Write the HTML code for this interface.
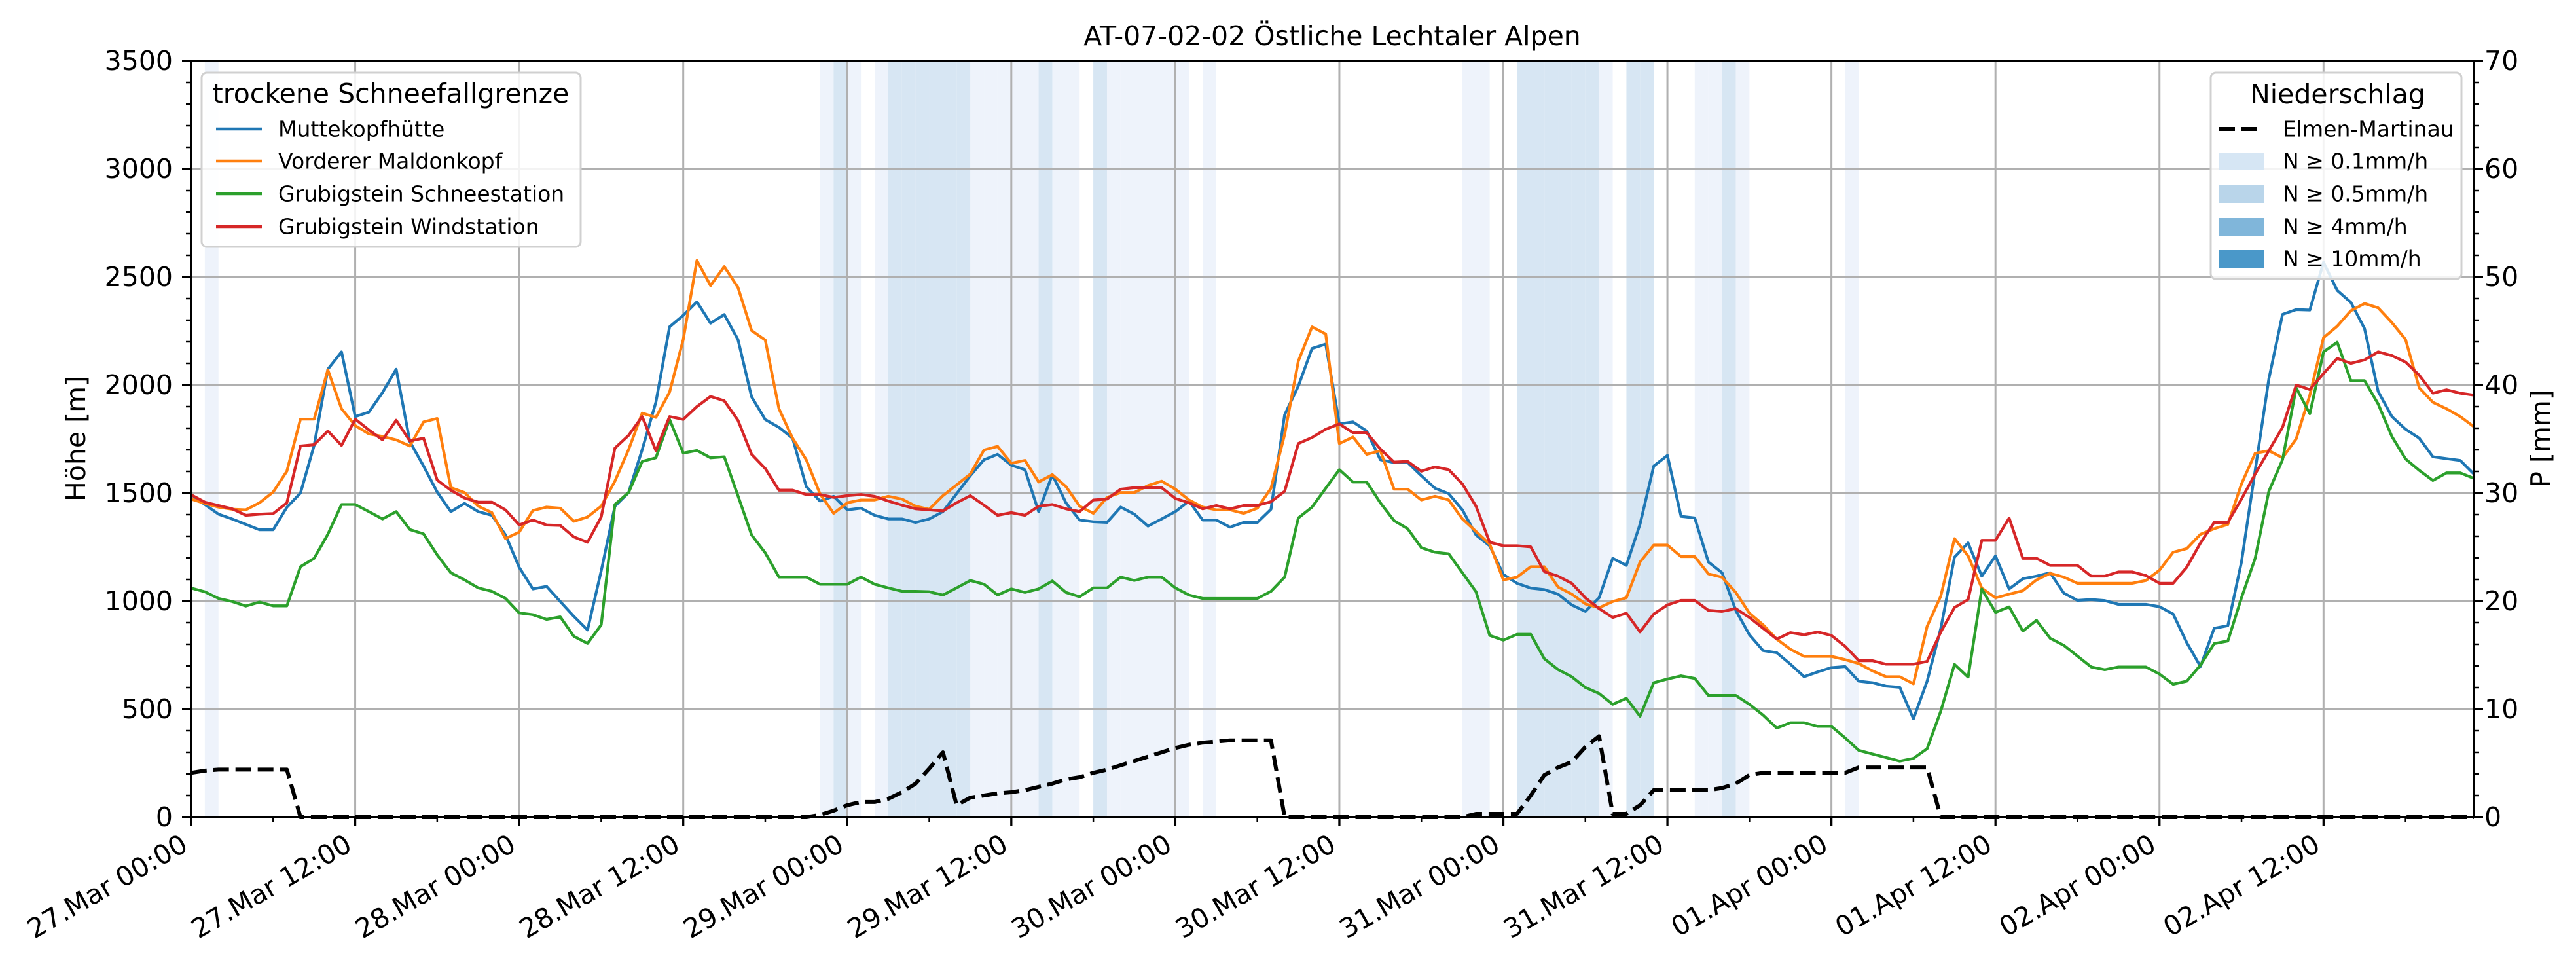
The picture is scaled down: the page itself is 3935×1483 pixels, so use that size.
<!DOCTYPE html>
<html><head><meta charset="utf-8"><style>
html,body{margin:0;padding:0;background:#fff;}
svg{display:block;font-family:"DejaVu Sans","Liberation Sans",sans-serif;}
</style></head><body>
<svg id="chart" width="3935" height="1483" viewBox="0 0 3935 1483" xmlns="http://www.w3.org/2000/svg">
<rect x="0" y="0" width="3935" height="1483" fill="#fff"/>
<g id="bands"></g>
<g id="grid"></g>
<g id="series"></g>
<g id="axes"></g>
<text x="2035" y="55" text-anchor="middle" dominant-baseline="central" font-size="41">AT-07-02-02 Östliche Lechtaler Alpen</text>
<text transform="translate(116,670) rotate(-90)" text-anchor="middle" dominant-baseline="central" font-size="41">Höhe [m]</text>
<text transform="translate(3881,670) rotate(-90)" text-anchor="middle" dominant-baseline="central" font-size="41">P [mm]</text>
<g>
<rect x="308" y="111" width="579" height="266" rx="8" fill="#fff" fill-opacity="0.85" stroke="#d0d0d0" stroke-width="3"/>
<text x="597" y="143" text-anchor="middle" dominant-baseline="central" font-size="41">trockene Schneefallgrenze</text>
<line x1="330" y1="197" x2="400" y2="197" stroke="#1f77b4" stroke-width="4.5"/>
<text x="425" y="197" dominant-baseline="central" font-size="33">Muttekopfhütte</text>
<line x1="330" y1="246" x2="400" y2="246" stroke="#ff7f0e" stroke-width="4.5"/>
<text x="425" y="246" dominant-baseline="central" font-size="33">Vorderer Maldonkopf</text>
<line x1="330" y1="296" x2="400" y2="296" stroke="#2ca02c" stroke-width="4.5"/>
<text x="425" y="296" dominant-baseline="central" font-size="33">Grubigstein Schneestation</text>
<line x1="330" y1="346" x2="400" y2="346" stroke="#d62728" stroke-width="4.5"/>
<text x="425" y="346" dominant-baseline="central" font-size="33">Grubigstein Windstation</text>
</g>
<g>
<rect x="3377" y="111" width="383" height="315" rx="8" fill="#fff" fill-opacity="0.85" stroke="#d0d0d0" stroke-width="3"/>
<text x="3571" y="144" text-anchor="middle" dominant-baseline="central" font-size="41">Niederschlag</text>
<line x1="3390" y1="197" x2="3458" y2="197" stroke="#000" stroke-width="6" stroke-dasharray="24,10"/>
<text x="3487" y="197" dominant-baseline="central" font-size="33">Elmen-Martinau</text>
<rect x="3390" y="233" width="68" height="27" fill="#d6e6f4"/>
<text x="3487" y="246" dominant-baseline="central" font-size="33">N ≥ 0.1mm/h</text>
<rect x="3390" y="283" width="68" height="27" fill="#b9d5ea"/>
<text x="3487" y="296" dominant-baseline="central" font-size="33">N ≥ 0.5mm/h</text>
<rect x="3390" y="333" width="68" height="27" fill="#80b6da"/>
<text x="3487" y="346" dominant-baseline="central" font-size="33">N ≥ 4mm/h</text>
<rect x="3390" y="382" width="68" height="27" fill="#4a98c9"/>
<text x="3487" y="395" dominant-baseline="central" font-size="33">N ≥ 10mm/h</text>
</g>
</svg>
<script>
const muttekopf = [1493,1447,1402,1380,1355,1330,1330,1434,1500,1721,2073,2153,1854,1874,1965,2073,1738,1625,1505,1414,1452,1414,1397,1306,1156,1056,1068,998,929,866,1140,1439,1502,1701,1920,2269,2322,2385,2286,2326,2211,1945,1840,
1804,1754,1530,1463,1485,1422,1430,1397,1380,1380,1364,1380,1414,1497,1580,1654,1679,1629,1608,1414,1585,1455,1375,1367,1364,1435,1402,1347,1380,1414,1463,1375,1375,1342,1364,1364,1425,1862,1995,2169,2189,1820,
1829,1787,1654,1641,1641,1580,1522,1497,1422,1306,1256,1123,1082,1060,1053,1032,982,952,1015,1198,1165,1356,1625,1674,1392,1385,1181,1131,957,844,771,761,708,650,672,692,697,629,622,606,601,
455,629,874,1203,1269,1115,1209,1056,1103,1115,1131,1037,1003,1007,1002,985,985,985,974,940,807,697,874,886,1181,1605,2028,2327,2349,2347,2568,2438,2382,2261,1970,1854,1795,1754,1668,1659,1651,1588];
const maldonkopf = [1472,1452,1435,1425,1422,1455,1505,1601,1842,1842,2070,1890,1812,1774,1762,1746,1718,1829,1845,1525,1502,1439,1409,1289,1319,1419,1435,1430,1369,1389,1439,1555,1701,1870,1850,1967,2211,2576,2460,2548,2452,2252,2208,
1890,1754,1654,1497,1406,1455,1468,1468,1485,1472,1439,1425,1488,1538,1588,1699,1716,1638,1651,1551,1585,1530,1439,1406,1480,1502,1502,1535,1555,1518,1468,1435,1422,1422,1406,1430,1522,1771,2111,2269,2236,1729,
1759,1679,1696,1518,1518,1468,1485,1468,1380,1322,1264,1098,1111,1159,1159,1065,1032,987,969,998,1015,1181,1259,1259,1206,1206,1126,1110,1040,944,890,824,777,744,744,744,729,711,677,650,650,
617,883,1023,1289,1209,1060,1015,1032,1048,1098,1128,1111,1082,1082,1082,1082,1082,1095,1143,1226,1243,1309,1335,1355,1542,1684,1696,1663,1751,1953,2219,2272,2344,2377,2357,2289,2211,1987,1920,1890,1854,1807];
const schneestation = [1060,1043,1012,998,977,995,978,978,1159,1198,1309,1447,1447,1414,1380,1414,1331,1311,1214,1131,1098,1061,1045,1012,945,937,915,927,837,804,890,1447,1502,1646,1663,1841,1685,1697,1663,1668,1488,1306,1223,
1111,1111,1111,1078,1078,1078,1111,1078,1061,1045,1045,1043,1028,1061,1095,1078,1028,1056,1040,1056,1093,1040,1020,1061,1061,1111,1095,1111,1111,1061,1028,1012,1012,1012,1012,1012,1045,1111,1385,1435,1522,1608,
1551,1551,1455,1372,1335,1247,1226,1219,1131,1043,841,819,846,846,733,683,650,600,572,522,550,467,622,639,654,642,563,563,563,522,472,412,437,437,420,420,367,309,292,276,259,
272,317,491,707,648,1056,948,973,861,911,828,795,745,695,682,695,695,695,662,615,629,704,803,815,1015,1198,1508,1654,1987,1867,2153,2198,2020,2020,1912,1762,1658,1605,1558,1593,1593,1568];
const windstation = [1492,1458,1442,1427,1397,1402,1405,1455,1718,1724,1787,1721,1842,1792,1746,1837,1741,1754,1560,1513,1477,1458,1458,1422,1352,1375,1352,1350,1297,1272,1389,1708,1767,1854,1696,1854,1841,1900,1947,1927,1837,1679,1613,
1513,1513,1493,1493,1480,1488,1493,1485,1463,1444,1427,1422,1417,1455,1488,1444,1397,1409,1397,1439,1447,1427,1414,1468,1472,1518,1525,1525,1525,1475,1455,1427,1442,1427,1442,1442,1460,1508,1729,1757,1795,1820,
1779,1779,1704,1643,1646,1601,1621,1608,1542,1439,1272,1256,1256,1251,1136,1115,1082,1015,965,924,944,857,940,982,1003,1003,957,952,965,924,874,824,854,844,857,841,791,724,724,708,708,
708,721,857,970,1007,1281,1281,1384,1198,1198,1165,1165,1165,1115,1115,1135,1135,1118,1082,1082,1157,1269,1364,1364,1472,1588,1696,1804,2000,1979,2053,2123,2100,2116,2153,2136,2106,2045,1962,1978,1962,1953];
const precipSum = [4.1,4.3,4.4,4.4,4.4,4.4,4.4,4.4,0,0,0,0,0,0,0,0,0,0,0,0,0,0,0,0,0,0,0,0,0,0,0,0,0,0,0,0,0,0,0,0,0,0,0,0,0,0,
0.2,0.6,1.1,1.4,1.4,1.7,2.3,3.1,4.5,6.0,1.1,1.8,2.0,2.2,2.3,2.5,2.8,3.1,3.5,3.7,4.1,4.4,4.8,5.2,5.6,6.0,6.4,6.7,6.9,7.0,7.1,7.1,7.1,7.1,
0,0,0,0,0,0,0,0,0,0,0,0,0,0,0.3,0.3,0.3,0.3,2.0,3.9,4.6,5.1,6.5,7.5,0.3,0.3,1.1,2.5,2.5,2.5,2.5,2.5,2.7,3.1,3.9,4.1,4.1,4.1,4.1,4.1,4.1,4.1,4.6,4.6,4.6,4.6,4.6,4.6,
0,0,0,0,0,0,0,0,0,0,0,0,0,0,0,0,0,0,0,0,0,0,0,0,0,0,0,0,0,0,0,0,0,0,0,0,0,0,0,0];
const lightRainHours = [1,46,48,50,57,58,59,60,61,63,64,67,68,69,70,71,72,74,93,94,103,110,111,113,121];
const moderateRainHours = [47,51,52,53,54,55,56,62,66,97,98,99,100,101,102,105,106,112];
const xTickLabels = ["27.Mar 00:00","27.Mar 12:00","28.Mar 00:00","28.Mar 12:00","29.Mar 00:00","29.Mar 12:00","30.Mar 00:00","30.Mar 12:00","31.Mar 00:00","31.Mar 12:00","01.Apr 00:00","01.Apr 12:00","02.Apr 00:00","02.Apr 12:00"];
const yTicks = [0,500,1000,1500,2000,2500,3000,3500];
const y2Ticks = [0,10,20,30,40,50,60,70];

const NS='http://www.w3.org/2000/svg';
const L=292,R=3779,T=93,B=1248,HOURS=167;
const x=h=>L+h*(R-L)/HOURS;
const y=m=>B-m*(B-T)/3500;
const y2=p=>B-p*(B-T)/70;
function mk(tag,attrs,parent){const e=document.createElementNS(NS,tag);for(const k in attrs)e.setAttribute(k,attrs[k]);parent.appendChild(e);return e;}
const gB=document.getElementById('bands'),gG=document.getElementById('grid'),gS=document.getElementById('series'),gA=document.getElementById('axes');
lightRainHours.forEach(h=>{const r=mk('rect',{x:x(h),y:T,width:x(h+1)-x(h),height:B-T,fill:'#eef3fb'},gB);

});
moderateRainHours.forEach(h=>{const r=mk('rect',{x:x(h),y:T,width:x(h+1)-x(h),height:B-T,fill:'#d7e6f3'},gB);

});
xTickLabels.forEach((lab,i)=>{const h=i*12;const xx=x(h);
const gl=mk('line',{x1:xx,y1:T,x2:xx,y2:B,stroke:'#b0b0b0','stroke-width':3},gG);


mk('line',{x1:xx,y1:B,x2:xx,y2:B+14,stroke:'#000','stroke-width':3.3},gA);
const t=mk('text',{transform:`translate(${xx-8},${B+40}) rotate(-30)`,'text-anchor':'end','dominant-baseline':'middle','font-size':41},gA);
t.textContent=lab;

});
for(let h=6;h<=HOURS;h+=12){mk('line',{x1:x(h),y1:B,x2:x(h),y2:B+8,stroke:'#000','stroke-width':2.5},gA);}
yTicks.forEach(v=>{const yy=y(v);
const gl=mk('line',{x1:L,y1:yy,x2:R,y2:yy,stroke:'#b0b0b0','stroke-width':3},gG);


mk('line',{x1:L-14,y1:yy,x2:L,y2:yy,stroke:'#000','stroke-width':3.3},gA);
const t=mk('text',{x:L-28,y:yy,'text-anchor':'end','dominant-baseline':'central','font-size':41},gA);
t.textContent=v;

});
for(let v=100;v<3500;v+=100){if(v%500)mk('line',{x1:L-8,y1:y(v),x2:L,y2:y(v),stroke:'#000','stroke-width':2.5},gA);}
y2Ticks.forEach(v=>{const yy=y2(v);
mk('line',{x1:R,y1:yy,x2:R+14,y2:yy,stroke:'#000','stroke-width':3.3},gA);
const t=mk('text',{x:R+16,y:yy,'dominant-baseline':'central','font-size':41},gA);
t.textContent=v;

});
for(let v=2;v<70;v+=2){if(v%10)mk('line',{x1:R,y1:y2(v),x2:R+8,y2:y2(v),stroke:'#000','stroke-width':2.5},gA);}
function series(arr,color,name,fy,extra){const d=arr.map((v,i)=>(i?'L':'M')+x(i).toFixed(1)+','+fy(v).toFixed(1)).join('');
const p=mk('path',Object.assign({d:d,fill:'none',stroke:color,'stroke-width':4.3,'stroke-linejoin':'round'},extra||{}),gS);

}
series(muttekopf,'#1f77b4','line-muttekopfhuette',y);
series(maldonkopf,'#ff7f0e','line-vorderer-maldonkopf',y);
series(schneestation,'#2ca02c','line-grubigstein-schneestation',y);
series(windstation,'#d62728','line-grubigstein-windstation',y);
series(precipSum,'#000','line-precip-elmen-martinau',y2,{'stroke-width':6,'stroke-dasharray':'24,10'});
const frame=mk('rect',{x:L,y:T,width:R-L,height:B-T,fill:'none',stroke:'#000','stroke-width':3.3},gA);


</script>
</body></html>
